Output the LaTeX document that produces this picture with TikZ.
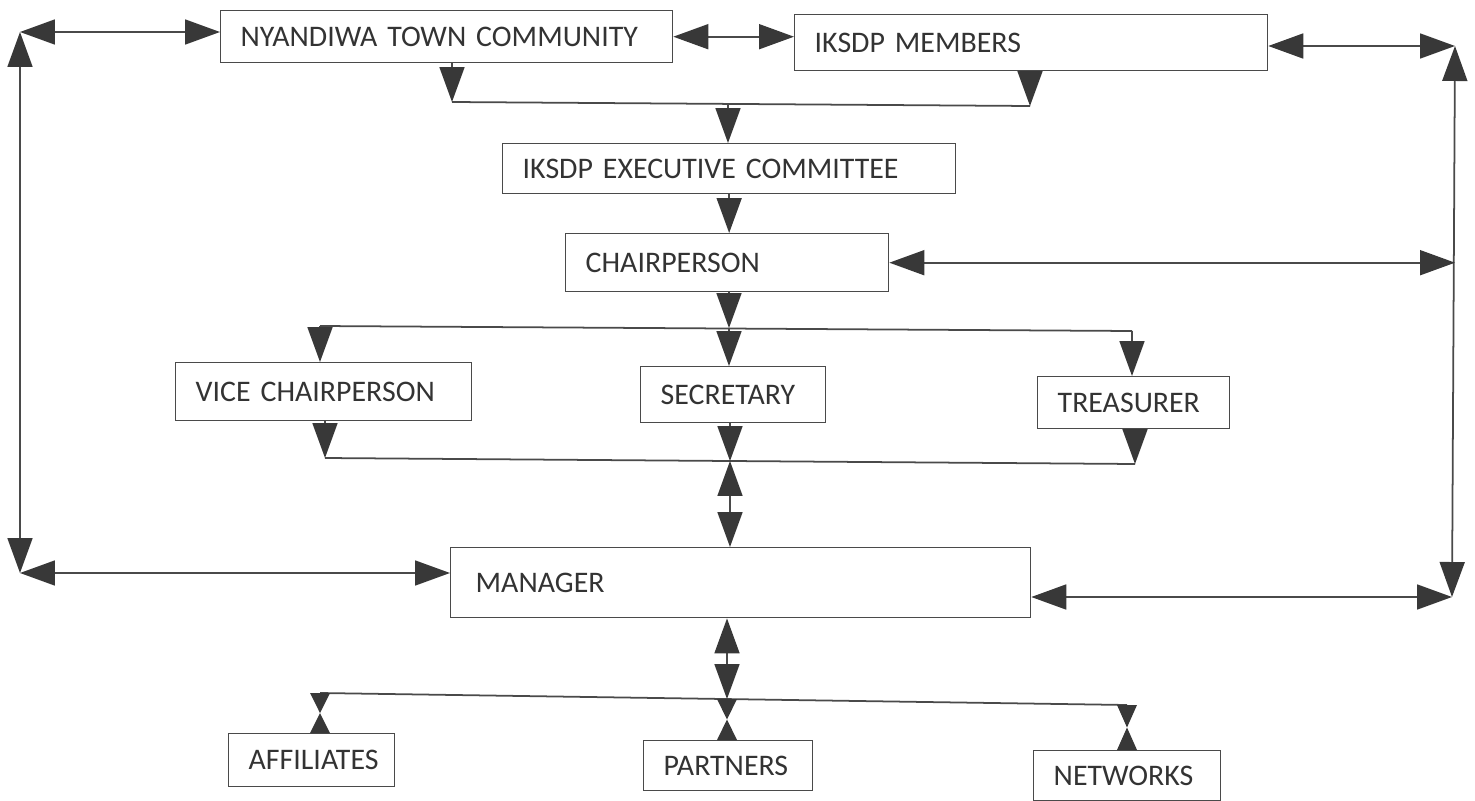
\documentclass[tikz,border=0pt]{standalone}
\usepackage{fontspec}
\setmainfont{Carlito}
\usetikzlibrary{arrows.meta}

\definecolor{inkgray}{HTML}{383838}
\definecolor{linegray}{HTML}{4A4A4A}
\definecolor{textgray}{HTML}{333333}

\tikzset{
  box/.style={draw=linegray, line width=0.8pt, anchor=north west, inner xsep=0.4cm, inner ysep=0pt,
    align=left, text=textgray, font=\fontsize{17}{20}\selectfont},
  conn/.style={draw=linegray, line width=1pt},
  bighead/.tip={Triangle[length=0.7cm, width=0.5cm, color=inkgray]},
  oneway/.style={conn, -bighead},
  twoway/.style={conn, bighead-bighead},
}

\begin{document}
\begin{tikzpicture}[x=0.02cm, y=-0.02cm]
    \useasboundingbox (0,0) rectangle (1475,801);

    % boxes, top to bottom
    \node[box, text width=8.24cm, minimum height=1.04cm] (comm) at (220,10) {NYANDIWA TOWN COMMUNITY};
    \node[box, text width=8.66cm, minimum height=1.12cm] (memb) at (794,14) {IKSDP MEMBERS};
    \node[box, text width=8.26cm, minimum height=1.00cm] (exec) at (502,143) {IKSDP EXECUTIVE COMMITTEE};
    \node[box, text width=5.66cm, minimum height=1.16cm] (chair) at (565,233) {CHAIRPERSON};
    \node[box, text width=5.12cm, minimum height=1.16cm] (vice) at (175,362) {VICE CHAIRPERSON};
    \node[box, text width=2.90cm, minimum height=1.12cm] (secr) at (640,366) {SECRETARY};
    \node[box, text width=3.04cm, minimum height=1.04cm] (treas) at (1037,376) {TREASURER};
    \node[box, text width=10.6cm, minimum height=1.40cm, inner xsep=0.5cm] (mgr) at (450,547) {MANAGER};
    \node[box, text width=2.52cm, minimum height=1.06cm] (aff) at (228,733) {AFFILIATES};
    \node[box, text width=2.58cm, minimum height=1.00cm] (part) at (643,740) {PARTNERS};
    \node[box, text width=2.94cm, minimum height=1.00cm] (netw) at (1033,750) {NETWORKS};

    % outer loop
    \coordinate (lt) at (20,32);
    \coordinate (lb) at (20,573);
    \coordinate (rt) at (1455,46);
    \coordinate (rb) at (1452,597);
    \draw[twoway] (lt) -- (lb);
    \draw[twoway] (rt) -- (rb);
    \draw[twoway] (lt) -- (lt -| comm.west);
    \draw[twoway] (lb) -- (lb -| mgr.west);
    \draw[twoway] (memb.east |- rt) -- (rt);
    \draw[twoway] (chair.east) -- (chair.east -| rt);
    \draw[twoway] (mgr.east |- rb) -- (rb);
    \draw[twoway] (comm.east) -- (comm.east -| memb.west);

    % community and members into the committee
    \coordinate (j1l) at (452,102);
    \coordinate (j1r) at (1030,106);
    \coordinate (j1) at (728,104);
    \draw[conn] (j1l) -- (j1r);
    \draw[oneway] (comm.south -| j1l) -- (j1l);
    \draw[oneway] (memb.south -| j1r) -- (j1r);
    \draw[oneway] (j1) -- (j1 |- exec.north);
    \draw[oneway] (exec.south) -- (exec.south |- chair.north);

    % chairperson to officers
    \coordinate (j2l) at (320,326);
    \coordinate (j2r) at (1132,331);
    \coordinate (j2) at (729,328);
    \draw[conn] (j2l) -- (j2r);
    \draw[oneway] (chair.south -| j2) -- (j2);
    \draw[oneway] (j2l) -- (j2l |- vice.north);
    \draw[oneway] (j2) -- (j2 |- secr.north);
    \draw[oneway] (j2r) -- (j2r |- treas.north);

    % officers to manager
    \coordinate (j3l) at (325,458);
    \coordinate (j3r) at (1135,464);
    \coordinate (j3) at (730,461);
    \draw[conn] (j3l) -- (j3r);
    \draw[oneway] (vice.south -| j3l) -- (j3l);
    \draw[oneway] (secr.south -| j3) -- (j3);
    \draw[oneway] (treas.south -| j3r) -- (j3r);
    \draw[twoway] (j3) -- (j3 |- mgr.north);

    % manager to outside bodies, pinched links
    \coordinate (j4l) at (320,693);
    \coordinate (j4r) at (1127,705);
    \coordinate (j4) at (727,699);
    \draw[conn] (j4l) -- (j4r);
    \draw[twoway] (mgr.south -| j4) -- (j4);
    \foreach \jn/\bn in {j4l/aff, j4/part, j4r/netw} {
        \path (\jn) -- (\jn |- \bn.north) coordinate[midway] (pm);
        \fill[inkgray] ([xshift=-0.2cm]\jn) -- ([xshift=0.2cm]\jn) -- (pm) -- cycle;
        \fill[inkgray] ([xshift=-0.2cm]\jn |- \bn.north) -- ([xshift=0.2cm]\jn |- \bn.north) -- (pm) -- cycle;
    }

\end{tikzpicture}
\end{document}
